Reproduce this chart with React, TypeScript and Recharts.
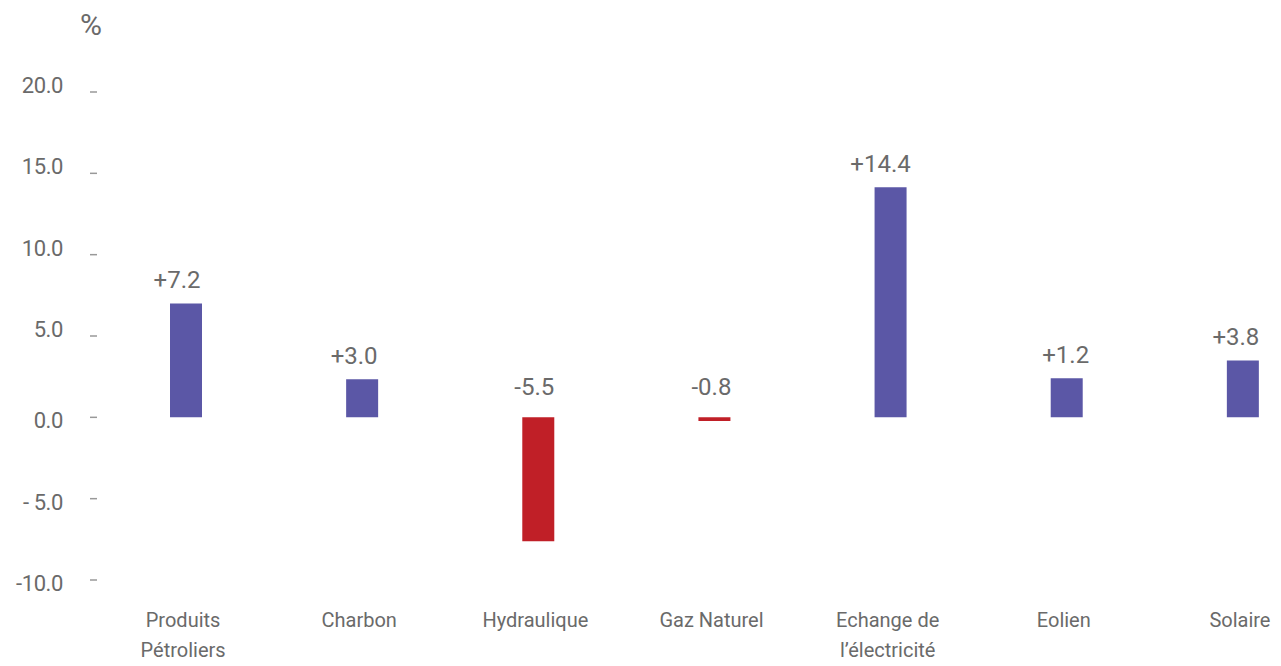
import { BarChart, Bar, XAxis, YAxis, Cell, LabelList } from 'recharts';

// categories (split over lines as on the axis)
const categoryLines = [
  ['Produits', 'Pétroliers'],
  ['Charbon'],
  ['Hydraulique'],
  ['Gaz Naturel'],
  ['Echange de', 'l’électricité'],
  ['Eolien'],
  ['Solaire'],
];
// bar heights as drawn
const barValues = [7.0, 2.34, -7.62, -0.22, 14.14, 2.4, 3.5];
// printed labels above the bars
const barLabels = ['+7.2', '+3.0', '-5.5', '-0.8', '+14.4', '+1.2', '+3.8'];
const yTicks = [-10, -5, 0, 5, 10, 15, 20];
const yTickLabels = ['-10.0', '- 5.0', '0.0', '5.0', '10.0', '15.0', '20.0'];

const POS = '#5b57a6';
const NEG = '#c01f27';
const TEXT = '#6a6a6a';
const FONT = 'Roboto, "Liberation Sans", sans-serif';
// the source labels sit a little left of their bars
const labelShift = [-9, -8, -4, -3, -10, -1, -7];

const data = categoryLines.map((lines, i) => ({
  name: lines.join(' '),
  value: barValues[i],
}));

const YTick = (props: any) => {
  const { y, payload } = props;
  const v = payload.value as number;
  const idx = yTicks.indexOf(v);
  return (
    <g>
      <text
        x={55}
        y={y + (v > 0 ? 1 : 11)}
        textAnchor="end"
        fill={TEXT}
        fontSize={22}
        letterSpacing={-0.4}
        fontFamily={FONT}
      >
        {yTickLabels[idx]}
      </text>
      <line x1={82} x2={89} y1={y} y2={y} stroke="#999" strokeWidth={1.5} />
    </g>
  );
};

const XTick = (props: any) => {
  const { x, index } = props;
  const lines = categoryLines[index] || [];
  return (
    <text x={x} y={619} textAnchor="middle" fill={TEXT} fontSize={20} fontFamily={FONT}>
      {lines.map((l, i) => (
        <tspan key={i} x={x - 3} dy={i === 0 ? 0 : 30}>
          {l}
        </tspan>
      ))}
    </text>
  );
};

const BarLabel = (props: any) => {
  const { x, y, width, height, index } = props;
  const top = Math.min(Number(y), Number(y) + Number(height));
  const neg = barValues[index] < 0;
  return (
    <text
      x={Number(x) + Number(width) / 2 + labelShift[index]}
      y={top - (neg ? 22 : 15)}
      textAnchor="middle"
      fill={TEXT}
      fontSize={24}
      fontFamily={FONT}
    >
      {barLabels[index]}
    </text>
  );
};

export default function App() {
  return (
    <div style={{ width: 1273, height: 658, overflow: 'hidden', position: 'relative', background: '#fff' }}>
      <div
        style={{
          position: 'absolute',
          left: 83,
          top: 26,
          transform: 'translate(-50%, -80%)',
          fontFamily: FONT,
          fontSize: 30,
          color: TEXT,
          lineHeight: 1,
        }}
      >
        %
      </div>
      <BarChart
        width={1340}
        height={658}
        data={data}
        margin={{ top: 84, right: 17, bottom: 0, left: 0 }}
      >
        <XAxis
          dataKey="name"
          axisLine={false}
          tickLine={false}
          interval={0}
          height={86}
          tick={<XTick />}
        />
        <YAxis
          type="number"
          domain={[-10, 20]}
          ticks={yTicks}
          width={90}
          axisLine={false}
          tickLine={false}
          tick={<YTick />}
        />
        <Bar dataKey="value" barSize={32} isAnimationActive={false}>
          {data.map((d, i) => (
            <Cell key={i} fill={d.value < 0 ? NEG : POS} />
          ))}
          <LabelList dataKey="value" content={<BarLabel />} />
        </Bar>
      </BarChart>
    </div>
  );
}
